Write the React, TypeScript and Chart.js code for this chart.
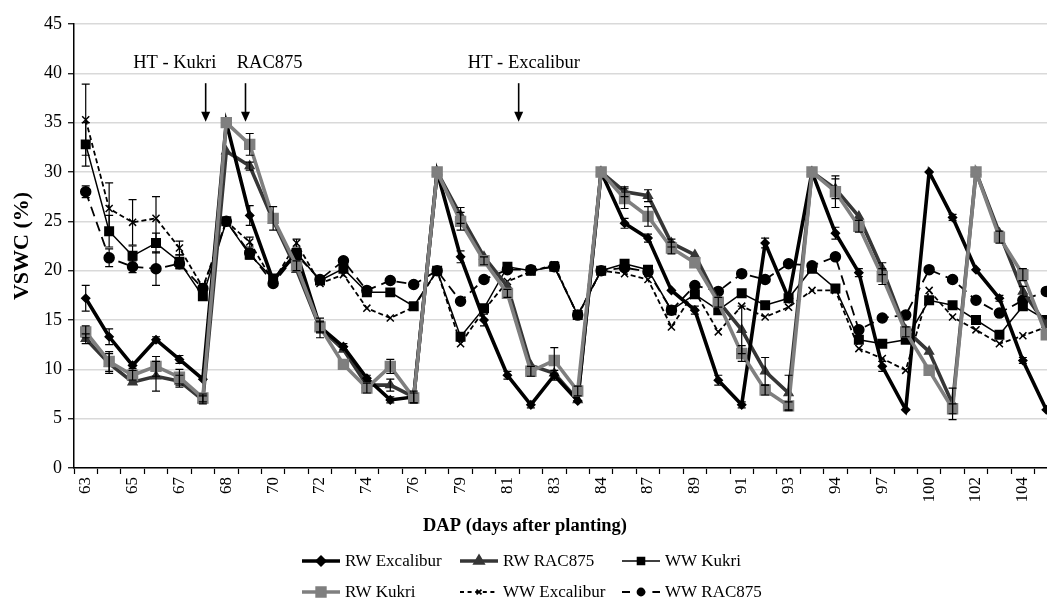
import { useEffect, useRef } from 'react';
import { Chart, registerables } from 'chart.js';
import { drawPoint } from 'chart.js/helpers';

Chart.register(...registerables);

// Sampling points (days after planting); only every second point carries a label.
const DAP_LABELS = [
  '63', '', '65', '', '67', '', '68', '', '70', '', '72', '', '74', '', '76', '',
  '79', '', '81', '', '83', '', '84', '', '87', '', '89', '', '91', '', '93', '',
  '94', '', '97', '', '100', '', '102', '', '104', '',
];

// Volumetric soil water content (%) per treatment
const RW_EXCALIBUR = [17.2, 13.3, 10.4, 13.0, 11.0, 9.0, 35.0, 25.6, 19.0, 21.8, 14.3, 12.3, 9.1, 6.9, 7.2, 30.0, 21.4, 15.0, 9.4, 6.4, 9.4, 6.8, 30.0, 24.8, 23.3, 18.0, 16.0, 8.9, 6.4, 22.8, 17.2, 30.0, 23.8, 19.8, 10.3, 5.9, 30.0, 25.4, 20.1, 17.2, 10.9, 5.9];
const RW_RAC875 = [13.1, 10.6, 8.7, 9.3, 8.8, 6.9, 32.1, 30.6, 25.1, 20.1, 14.2, 12.0, 8.4, 8.4, 7.2, 30.0, 25.6, 21.4, 18.4, 10.4, 9.6, 6.9, 30.0, 28.0, 27.6, 22.8, 21.6, 16.9, 14.0, 9.8, 7.6, 30.0, 28.3, 25.5, 20.2, 14.0, 11.8, 6.5, 30.0, 23.8, 17.9, 14.5];
const WW_KUKRI = [32.8, 24.0, 21.5, 22.8, 20.9, 17.4, 25.0, 21.6, 19.2, 21.8, 19.0, 20.2, 17.8, 17.8, 16.4, 20.0, 13.3, 16.2, 20.4, 20.0, 20.4, 15.5, 20.0, 20.7, 20.1, 16.0, 17.6, 16.0, 17.7, 16.5, 17.2, 20.2, 18.2, 13.0, 12.6, 13.0, 17.0, 16.5, 15.0, 13.5, 16.4, 15.0];
const RW_KUKRI = [13.8, 10.8, 9.4, 10.3, 9.2, 7.1, 35.0, 32.8, 25.3, 20.5, 14.3, 10.5, 8.1, 10.3, 7.1, 30.0, 25.0, 21.0, 17.7, 9.8, 10.9, 7.8, 30.0, 27.3, 25.5, 22.3, 20.8, 16.8, 11.6, 7.9, 6.3, 30.0, 28.0, 24.5, 19.4, 13.8, 9.9, 6.0, 30.0, 23.4, 19.6, 13.5];
const WW_EXCALIBUR = [35.3, 26.3, 24.9, 25.3, 22.3, 18.3, 25.0, 22.9, 18.9, 22.8, 18.7, 19.6, 16.2, 15.2, 16.3, 20.0, 12.6, 16.0, 18.9, 19.9, 20.6, 15.4, 20.0, 19.7, 19.1, 14.3, 17.9, 13.8, 16.4, 15.3, 16.3, 18.0, 18.0, 12.1, 11.1, 9.9, 18.0, 15.3, 14.0, 12.6, 13.4, 14.3];
const WW_RAC875 = [28.0, 21.3, 20.4, 20.2, 20.7, 18.2, 25.0, 21.8, 18.7, 21.6, 19.1, 21.0, 18.0, 19.0, 18.6, 20.0, 16.9, 19.1, 20.1, 20.1, 20.4, 15.5, 20.0, 20.3, 19.9, 16.0, 18.5, 17.9, 19.7, 19.1, 20.7, 20.5, 21.4, 14.0, 15.2, 15.5, 20.1, 19.1, 17.0, 15.7, 17.0, 17.9];

// Standard errors (0 = bar hidden behind the marker)
const RW_EXCALIBUR_SE = [1.3, 0.8, 0.3, 0.3, 0.4, 0, 0, 1.0, 0.4, 0, 0.5, 0.3, 0.3, 0.3, 0, 0, 0.6, 0.6, 0.4, 0.3, 0.5, 0, 0, 0.5, 0.4, 0, 0.4, 0.5, 0.3, 0.5, 0, 0, 0.6, 0.4, 0.5, 0, 0, 0.3, 0, 0.3, 0.3, 0];
const RW_RAC875_SE = [0.5, 1.0, 0, 1.5, 0.6, 0.4, 0, 0.4, 0, 0, 1.0, 0, 0, 0.6, 0.6, 0, 0.8, 0, 0, 0, 0, 0, 0, 0.5, 0.6, 0.4, 0, 0, 2.4, 1.4, 1.8, 0, 1.0, 0, 0.6, 0, 0, 1.6, 0, 0, 0.5, 0];
const WW_KUKRI_SE = [2.2, 1.6, 1.0, 1.0, 0.7, 0.4, 0, 0.4, 0.4, 0, 0, 0, 0, 0, 0, 0, 0, 0, 0, 0, 0, 0, 0, 0, 0, 0, 0, 0, 0, 0, 0, 0, 0, 0, 0, 0, 0, 0, 0, 0, 0, 0];
const RW_KUKRI_SE = [0.6, 1.0, 0.5, 1.0, 0.8, 0.4, 0, 1.1, 1.2, 0.5, 0.6, 0, 0.5, 0.7, 0.5, 0, 0.9, 0.4, 0.4, 0.5, 1.3, 0.5, 0, 1.0, 1.0, 0.6, 0, 0.5, 0.8, 0.5, 0.4, 0, 1.6, 0.6, 0.8, 0.5, 0, 0.5, 0, 0.6, 0.6, 0];
const WW_EXCALIBUR_SE = [3.6, 2.6, 2.3, 2.2, 0.7, 0.4, 0, 0.5, 0, 0.4, 0, 0, 0, 0, 0, 0, 0, 0, 0, 0, 0.3, 0, 0, 0, 0, 0, 0, 0, 0, 0, 0, 0, 0, 0, 0, 0, 0, 0, 0, 0, 0, 0];
const WW_RAC875_SE = [0.6, 0.9, 0.6, 1.7, 0.5, 0, 0, 0, 0, 0, 0, 0, 0, 0, 0, 0, 0, 0, 0, 0, 0, 0, 0, 0, 0, 0, 0, 0, 0, 0, 0, 0, 0, 0, 0, 0, 0, 0, 0, 0, 0, 0];

// Event markers along the time axis (position given as sampling-point index)
const EVENTS = [
  { text: 'HT - Kukri', textAt: 3.8, arrowAt: 5.12 },
  { text: 'RAC875', textAt: 7.85, arrowAt: 6.82 },
  { text: 'HT - Excalibur', textAt: 18.7, arrowAt: 18.48 },
];

const SERIF = "'Liberation Serif', 'Times New Roman', serif";

type Style = {
  label: string; data: number[]; err: number[]; color: string; width: number;
  dash: number[]; point: string; radius: number; legendRadius: number; order: number;
};

const SERIES: Style[] = [
  { label: 'RW Excalibur', data: RW_EXCALIBUR, err: RW_EXCALIBUR_SE, color: '#000000', width: 3.6, dash: [], point: 'rectRot', radius: 4, legendRadius: 3.5, order: 1 },
  { label: 'RW RAC875', data: RW_RAC875, err: RW_RAC875_SE, color: '#363636', width: 3.6, dash: [], point: 'triangle', radius: 5, legendRadius: 4, order: 2 },
  { label: 'WW Kukri', data: WW_KUKRI, err: WW_KUKRI_SE, color: '#000000', width: 1.5, dash: [], point: 'rect', radius: 6, legendRadius: 5, order: 3 },
  { label: 'RW Kukri', data: RW_KUKRI, err: RW_KUKRI_SE, color: '#7f7f7f', width: 3.6, dash: [], point: 'rect', radius: 7, legendRadius: 5.5, order: 0 },
  { label: 'WW Excalibur', data: WW_EXCALIBUR, err: WW_EXCALIBUR_SE, color: '#000000', width: 1.8, dash: [5, 3], point: 'crossRot', radius: 5, legendRadius: 3.5, order: 5 },
  { label: 'WW RAC875', data: WW_RAC875, err: WW_RAC875_SE, color: '#000000', width: 1.8, dash: [10, 6], point: 'circle', radius: 5, legendRadius: 3.5, order: 4 },
];

const CANVAS_W = 1080;
const CANVAS_H = 603;
const PLOT_LEFT = 74;
const PLOT_TOP = 24;
const PLOT_BOTTOM = 468;
const PLOT_RIGHT = 1058;

const overlay = {
  id: 'vswcOverlay',
  afterDatasetsDraw(chart: any) {
    const { ctx } = chart;
    const xs = chart.scales.x;
    const ys = chart.scales.y;
    ctx.save();
    ctx.strokeStyle = '#000';
    ctx.lineWidth = 1.2;
    ctx.setLineDash([]);
    SERIES.forEach((s) => {
      s.data.forEach((v, j) => {
        const e = s.err[j];
        if (!e) return;
        const x = xs.getPixelForValue(j);
        const y1 = ys.getPixelForValue(v + e);
        const y2 = ys.getPixelForValue(v - e);
        ctx.beginPath();
        ctx.moveTo(x, y1); ctx.lineTo(x, y2);
        ctx.moveTo(x - 4, y1); ctx.lineTo(x + 4, y1);
        ctx.moveTo(x - 4, y2); ctx.lineTo(x + 4, y2);
        ctx.stroke();
      });
    });
    ctx.restore();
  },
  afterDraw(chart: any) {
    const { ctx } = chart;
    const xs = chart.scales.x;
    const ys = chart.scales.y;
    ctx.save();

    // event labels and arrows
    ctx.fillStyle = '#000';
    ctx.strokeStyle = '#000';
    ctx.font = `18.5px ${SERIF}`;
    ctx.textAlign = 'center';
    ctx.textBaseline = 'middle';
    EVENTS.forEach((ev) => {
      ctx.fillText(ev.text, xs.getPixelForValue(ev.textAt), ys.getPixelForValue(41.0));
      const ax = xs.getPixelForValue(ev.arrowAt);
      const top = ys.getPixelForValue(39.0);
      const tip = ys.getPixelForValue(35.1);
      ctx.lineWidth = 1.6;
      ctx.beginPath();
      ctx.moveTo(ax, top);
      ctx.lineTo(ax, tip - 6);
      ctx.stroke();
      ctx.beginPath();
      ctx.moveTo(ax, tip);
      ctx.lineTo(ax - 4.5, tip - 10);
      ctx.lineTo(ax + 4.5, tip - 10);
      ctx.closePath();
      ctx.fill();
    });

    // axis titles
    ctx.font = `bold 18.5px ${SERIF}`;
    ctx.fillText('DAP (days after planting)', 525, 526);
    ctx.save();
    ctx.translate(22, (PLOT_TOP + PLOT_BOTTOM) / 2);
    ctx.rotate(-Math.PI / 2);
    ctx.font = `bold 22px ${SERIF}`;
    ctx.fillText('VSWC (%)', 0, 0);
    ctx.restore();

    // legend
    const cols = [302, 460, 622];
    const rows = [561, 592];
    ctx.font = `17px ${SERIF}`;
    ctx.textAlign = 'left';
    SERIES.forEach((s, i) => {
      const x0 = cols[i % 3];
      const y = rows[Math.floor(i / 3)];
      ctx.strokeStyle = s.color;
      ctx.fillStyle = s.color;
      ctx.lineWidth = s.width;
      ctx.setLineDash(s.dash.length ? [s.dash[0] * 0.8, s.dash[1] * 1.2] : []);
      ctx.beginPath();
      ctx.moveTo(x0, y);
      ctx.lineTo(x0 + 38, y);
      ctx.stroke();
      ctx.setLineDash([]);
      drawPoint(ctx, { pointStyle: s.point, radius: s.legendRadius, rotation: 0, borderWidth: 1.2 } as any, x0 + 19, y);
      ctx.fillStyle = '#000';
      ctx.fillText(s.label, x0 + 43, y + 1);
    });
    ctx.restore();
  },
};

export default function App() {
  const canvasRef = useRef<HTMLCanvasElement | null>(null);

  useEffect(() => {
    const canvas = canvasRef.current;
    if (!canvas) return;
    const chart = new Chart(canvas, {
      type: 'line',
      data: {
        labels: DAP_LABELS,
        datasets: SERIES.map((s) => ({
          label: s.label,
          data: s.data,
          order: s.order,
          borderColor: s.color,
          backgroundColor: s.color,
          borderWidth: s.width,
          borderDash: s.dash,
          pointStyle: s.point as any,
          pointRadius: s.radius,
          pointBackgroundColor: s.color,
          pointBorderColor: s.color,
          pointBorderWidth: 1.5,
          tension: 0,
          fill: false,
        })),
      },
      options: {
        responsive: false,
        animation: false,
        devicePixelRatio: 1,
        layout: { padding: { top: PLOT_TOP, left: 0, right: CANVAS_W - PLOT_RIGHT, bottom: 0 } },
        plugins: { legend: { display: false }, tooltip: { enabled: false }, title: { display: false } },
        scales: {
          x: {
            type: 'category',
            offset: true,
            afterFit: (scale: any) => { scale.height = CANVAS_H - PLOT_BOTTOM; },
            grid: { offset: true, drawOnChartArea: false, drawTicks: true, tickLength: 6, tickColor: '#000', tickWidth: 1.2 },
            border: { color: '#000', width: 1.5 },
            ticks: {
              autoSkip: false,
              maxRotation: 90,
              minRotation: 90,
              padding: 3,
              color: '#000',
              font: { family: SERIF, size: 17 },
            },
          },
          y: {
            min: 0,
            max: 45,
            afterFit: (scale: any) => { scale.width = PLOT_LEFT; },
            grid: { color: '#d9d9d9', lineWidth: 1.5, tickColor: '#000', tickLength: 6, tickWidth: 1.2 },
            border: { color: '#000', width: 1.5 },
            ticks: { stepSize: 5, padding: 6, color: '#000', font: { family: SERIF, size: 18 } },
          },
        },
      },
      plugins: [overlay],
    });
    return () => chart.destroy();
  }, []);

  return (
    <div style={{ position: 'absolute', left: 0, top: 0, width: 1047, height: CANVAS_H, overflow: 'hidden', background: '#fff' }}>
      <canvas ref={canvasRef} width={CANVAS_W} height={CANVAS_H} style={{ display: 'block', width: CANVAS_W, height: CANVAS_H }} />
    </div>
  );
}
